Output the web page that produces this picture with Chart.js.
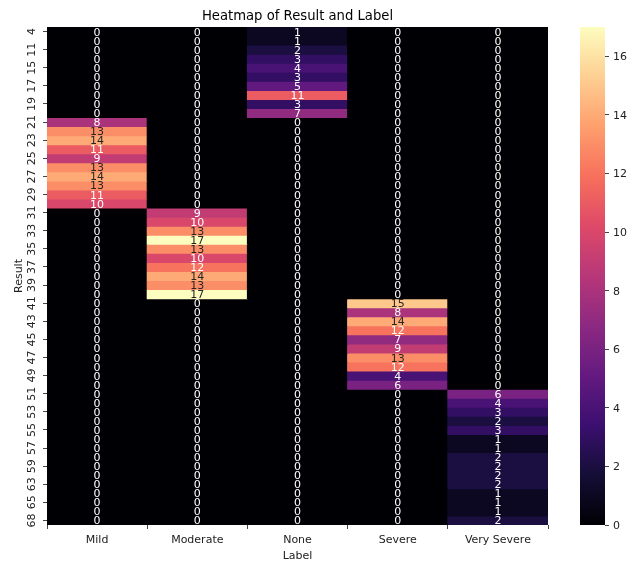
<!DOCTYPE html>
<html>
<head>
<meta charset="utf-8">
<script src="https://cdn.jsdelivr.net/npm/chart.js@4.4.1/dist/chart.umd.min.js"></script>
<style>
  html, body { margin: 0; padding: 0; background: #fff; }
  canvas { display: block; }
</style>
</head>
<body>
<canvas id="c" width="639" height="561"></canvas>
<script>
// Severity categories along the x axis
const labels = ['Mild', 'Moderate', 'None', 'Severe', 'Very Severe'];

// Distinct Result values, one heatmap row each (top to bottom)
const results = [4, 9, 11, 13, 15, 16, 17, 18, 19, 20,
                 21, 22, 23, 24, 25, 26, 27, 28, 29, 30,
                 31, 32, 33, 34, 35, 36, 37, 38, 39, 40,
                 41, 42, 43, 44, 45, 46, 47, 48, 49, 50,
                 51, 52, 53, 54, 55, 56, 57, 58, 59, 61, 63, 64, 65, 67, 68];

// Counts per Result row for each Label column
const mild = [0, 0, 0, 0, 0, 0, 0, 0, 0, 0,
              8, 13, 14, 11, 9, 13, 14, 13, 11, 10,
              0, 0, 0, 0, 0, 0, 0, 0, 0, 0,
              0, 0, 0, 0, 0, 0, 0, 0, 0, 0,
              0, 0, 0, 0, 0, 0, 0, 0, 0, 0, 0, 0, 0, 0, 0];
const moderate = [0, 0, 0, 0, 0, 0, 0, 0, 0, 0,
                  0, 0, 0, 0, 0, 0, 0, 0, 0, 0,
                  9, 10, 13, 17, 13, 10, 12, 14, 13, 17,
                  0, 0, 0, 0, 0, 0, 0, 0, 0, 0,
                  0, 0, 0, 0, 0, 0, 0, 0, 0, 0, 0, 0, 0, 0, 0];
const none = [1, 1, 2, 3, 4, 3, 5, 11, 3, 7,
              0, 0, 0, 0, 0, 0, 0, 0, 0, 0,
              0, 0, 0, 0, 0, 0, 0, 0, 0, 0,
              0, 0, 0, 0, 0, 0, 0, 0, 0, 0,
              0, 0, 0, 0, 0, 0, 0, 0, 0, 0, 0, 0, 0, 0, 0];
const severe = [0, 0, 0, 0, 0, 0, 0, 0, 0, 0,
                0, 0, 0, 0, 0, 0, 0, 0, 0, 0,
                0, 0, 0, 0, 0, 0, 0, 0, 0, 0,
                15, 8, 14, 12, 7, 9, 13, 12, 4, 6,
                0, 0, 0, 0, 0, 0, 0, 0, 0, 0, 0, 0, 0, 0, 0];
const verySevere = [0, 0, 0, 0, 0, 0, 0, 0, 0, 0,
                    0, 0, 0, 0, 0, 0, 0, 0, 0, 0,
                    0, 0, 0, 0, 0, 0, 0, 0, 0, 0,
                    0, 0, 0, 0, 0, 0, 0, 0, 0, 0,
                    6, 4, 3, 2, 3, 1, 1, 2, 2, 2, 2, 1, 1, 1, 2];

const columns = [mild, moderate, none, severe, verySevere];

// Colour scale range and colour bar ticks
const VMIN = 0;
const VMAX = 17;
const cbTicks = [0, 2, 4, 6, 8, 10, 12, 14, 16];

// Magma colormap control points (evenly spaced from 0 to 1)
const MAGMA = [
  [0, 0, 4], [20, 14, 54], [59, 15, 112], [100, 26, 128], [140, 41, 129],
  [183, 55, 121], [222, 73, 104], [247, 112, 92], [254, 159, 109],
  [254, 207, 146], [252, 253, 191]
];

function magma(t) {
  t = Math.max(0, Math.min(1, t));
  const p = t * (MAGMA.length - 1);
  const i = Math.min(MAGMA.length - 2, Math.floor(p));
  const f = p - i;
  const a = MAGMA[i], b = MAGMA[i + 1];
  return [0, 1, 2].map(k => Math.round(a[k] + (b[k] - a[k]) * f));
}
const css = c => `rgb(${c[0]},${c[1]},${c[2]})`;
const cellColor = v => magma((v - VMIN) / (VMAX - VMIN));

// Relative luminance, used to pick light or dark annotation text
function luminance(c) {
  const l = c.map(v => {
    v /= 255;
    return v <= 0.03928 ? v / 12.92 : Math.pow((v + 0.055) / 1.055, 2.4);
  });
  return 0.2126 * l[0] + 0.7152 * l[1] + 0.0722 * l[2];
}

// Text styling
const FAMILY = '"DejaVu Sans"';
const SIZE = 11;
const TEXT = '#222';
const TICK = '#444';

function drawText(ctx, str, x, y, opts) {
  const o = Object.assign({ size: SIZE, color: TEXT, align: 'center', rotate: 0 }, opts);
  ctx.save();
  ctx.translate(x, y);
  if (o.rotate) ctx.rotate(o.rotate);
  ctx.font = `${o.size}px ${FAMILY}`;
  ctx.fillStyle = o.color;
  ctx.textAlign = o.align;
  ctx.textBaseline = 'alphabetic';
  ctx.fillText(str, 0, 0);
  ctx.restore();
}
// Half of the digit/cap height, to centre text on a point
const capHalf = size => 0.73 * size / 2;

// One floating-bar dataset per row; each bar spans one row on the y scale
const datasets = results.map((res, r) => ({
  label: String(res),
  data: labels.map(() => [r, r + 1]),
  backgroundColor: columns.map(col => css(cellColor(col[r]))),
  borderWidth: 0,
  inflateAmount: 0.5,
  grouped: false,
  barPercentage: 1,
  categoryPercentage: 1,
  yAxisID: 'y'
}));

// Cell value annotations
const annotate = {
  id: 'annotate',
  afterDatasetsDraw(chart) {
    const ctx = chart.ctx;
    chart.data.datasets.forEach((ds, r) => {
      chart.getDatasetMeta(r).data.forEach((bar, j) => {
        const v = columns[j][r];
        const color = luminance(cellColor(v)) > 0.408 ? '#262626' : '#ffffff';
        drawText(ctx, String(v), bar.x, (bar.y + bar.base) / 2 + capHalf(SIZE), { color });
      });
    });
  }
};

// Colour bar, axis tick labels and titles
const decorations = {
  id: 'decorations',
  afterDraw(chart) {
    const ctx = chart.ctx;
    const { x: xs, y: ys, cb } = chart.scales;
    const area = chart.chartArea;

    // colour bar gradient, left of the cb scale
    const w = 25;
    const g = ctx.createLinearGradient(0, cb.getPixelForValue(VMIN), 0, cb.getPixelForValue(VMAX));
    MAGMA.forEach((c, i) => g.addColorStop(i / (MAGMA.length - 1), css(c)));
    ctx.save();
    ctx.fillStyle = g;
    ctx.fillRect(cb.left - w, cb.top, w, cb.bottom - cb.top);
    ctx.restore();

    // colour bar tick labels
    cb.ticks.forEach(t => {
      drawText(ctx, String(t.value), cb.left + 8, cb.getPixelForValue(t.value) + capHalf(SIZE), { align: 'left' });
    });

    // Result tick labels (rotated)
    ys.ticks.forEach(t => {
      drawText(ctx, String(results[Math.floor(t.value)]), ys.right - 12, ys.getPixelForValue(t.value),
               { rotate: -Math.PI / 2 });
    });

    // Label tick labels
    labels.forEach((lab, i) => {
      drawText(ctx, lab, xs.getPixelForTick(i), area.bottom + 17.5);
    });

    // axis titles
    drawText(ctx, 'Label', (area.left + area.right) / 2, area.bottom + 33.5);
    drawText(ctx, 'Result', ys.left + 21.5, (area.top + area.bottom) / 2, { rotate: -Math.PI / 2 });

    // chart title
    drawText(ctx, 'Heatmap of Result and Label', (area.left + area.right) / 2, area.top - 7,
             { size: 13.2, color: '#000' });
  }
};

new Chart(document.getElementById('c'), {
  type: 'bar',
  data: { labels, datasets },
  plugins: [annotate, decorations],
  options: {
    responsive: false,
    animation: false,
    events: [],
    layout: { padding: { top: 27, left: 0, right: 0, bottom: 0 } },
    plugins: {
      legend: { display: false },
      tooltip: { enabled: false },
      title: { display: false }
    },
    scales: {
      x: {
        type: 'category',
        position: 'bottom',
        offset: true,
        grid: { display: true, drawOnChartArea: false, drawTicks: true, tickLength: 4, tickColor: TICK },
        border: { display: false },
        ticks: { display: false },
        afterFit(s) { s.height = 36; }
      },
      y: {
        type: 'linear',
        position: 'left',
        reverse: true,
        min: 0,
        max: results.length,
        afterBuildTicks(s) {
          const ticks = [];
          for (let i = 0; i < results.length; i += 2) ticks.push({ value: i + 0.5 });
          s.ticks = ticks;
        },
        grid: { display: true, drawOnChartArea: false, drawTicks: true, tickLength: 4, tickColor: TICK },
        border: { display: false },
        ticks: { display: false },
        afterFit(s) { s.width = 47; }
      },
      gap: {
        type: 'linear',
        position: 'right',
        weight: 0,
        display: true,
        grid: { display: false },
        border: { display: false },
        ticks: { display: false },
        afterFit(s) { s.width = 57; }
      },
      cb: {
        type: 'linear',
        position: 'right',
        weight: 1,
        min: VMIN,
        max: VMAX,
        afterBuildTicks(s) { s.ticks = cbTicks.map(value => ({ value })); },
        grid: { display: true, drawOnChartArea: false, drawTicks: true, tickLength: 4, tickColor: TICK },
        border: { display: false },
        ticks: { display: false },
        afterFit(s) { s.width = 34; }
      }
    }
  }
});
</script>
</body>
</html>
